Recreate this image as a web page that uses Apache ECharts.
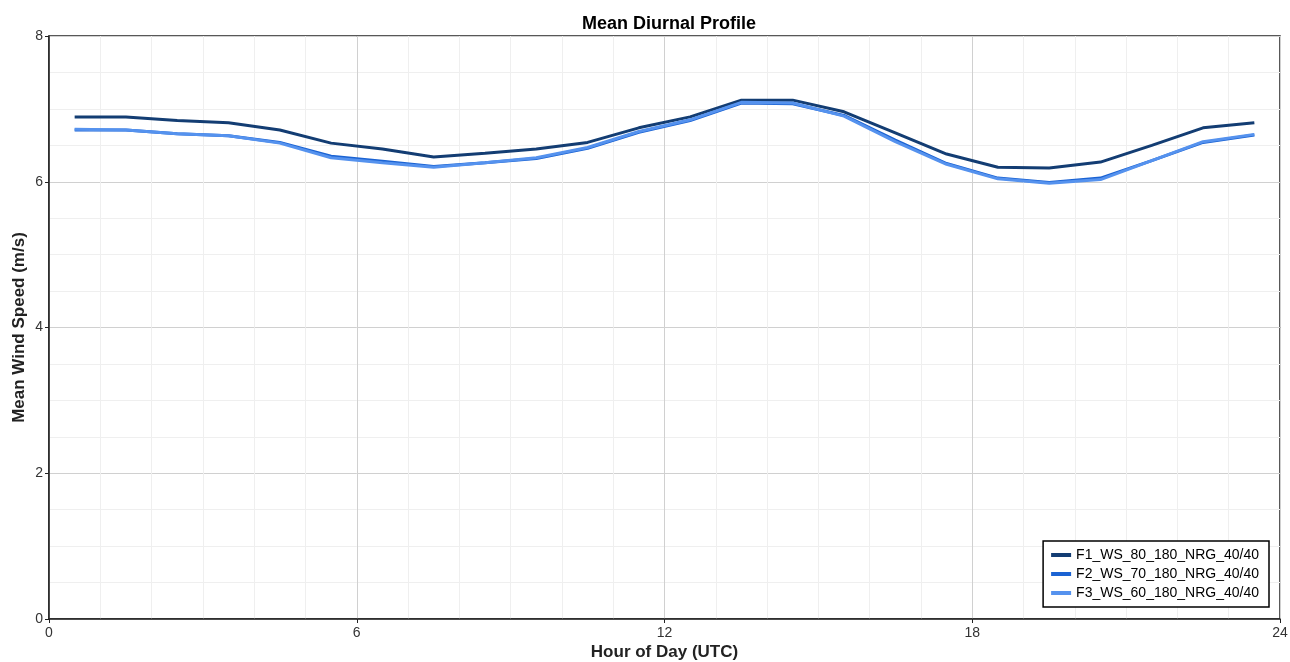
<!DOCTYPE html>
<html><head><meta charset="utf-8">
<script src="https://cdn.jsdelivr.net/npm/echarts@6/dist/echarts.min.js"></script>
<style>html,body{margin:0;padding:0;background:#fff}#c{width:1290px;height:662px}</style>
</head><body><div id="c"></div>
<script>
const hours = [0.5,1.5,2.5,3.5,4.5,5.5,6.5,7.5,8.5,9.5,10.5,11.5,12.5,13.5,14.5,15.5,16.5,17.5,18.5,19.5,20.5,21.5,22.5,23.5];
const seriesNames = ["F1_WS_80_180_NRG_40/40","F2_WS_70_180_NRG_40/40","F3_WS_60_180_NRG_40/40"];
const f1 = [6.89,6.89,6.84,6.81,6.71,6.53,6.45,6.34,6.39,6.45,6.54,6.74,6.89,7.12,7.12,6.96,6.67,6.38,6.20,6.19,6.27,6.50,6.74,6.81];
const f2 = [6.71,6.71,6.66,6.63,6.54,6.35,6.28,6.21,6.26,6.32,6.46,6.68,6.84,7.08,7.07,6.91,6.57,6.25,6.05,5.99,6.05,6.29,6.54,6.64];
const f3 = [6.72,6.71,6.66,6.63,6.53,6.33,6.26,6.20,6.26,6.33,6.47,6.69,6.85,7.09,7.08,6.90,6.55,6.24,6.04,5.98,6.03,6.29,6.55,6.65];
const colors = ["#133d73","#1b63d3","#5592ee"];
const xTicks = [0,6,12,18,24];
const yTicks = [0,2,4,6,8];

const font = "'Liberation Sans', Arial, sans-serif";
const chart = echarts.init(document.getElementById('c'), null, {renderer:'canvas'});
const mk = (name, vals, i) => ({
  name, type:'line', data: hours.map((h,k)=>[h, vals[k]]),
  showSymbol:false, symbol:'none', z: 3 + i,
  lineStyle:{color:colors[i], width:3}, itemStyle:{color:colors[i]}
});
chart.setOption({
  animation:false,
  backgroundColor:'#fff',
  title:{text:'Mean Diurnal Profile', left:664, textAlign:'center', top:10,
    textStyle:{fontFamily:font, fontSize:18, fontWeight:'bold', color:'#000'}},
  grid:{left:49, top:36, right:10, bottom:43, containLabel:false, outerBoundsMode:'none',
    show:true, borderColor:'#222', borderWidth:1.5, backgroundColor:'transparent'},
  legend:{orient:'vertical', right:21, bottom:55, data:seriesNames, z:20,
    backgroundColor:'#fff', borderColor:'#000', borderWidth:1.5,
    padding:[7,10,7,8], itemGap:5, itemWidth:20, itemHeight:4, icon:'rect',
    textStyle:{fontFamily:font, fontSize:14, color:'#000'}},
  xAxis:{type:'value', min:xTicks[0], max:xTicks[xTicks.length-1], interval:6,
    name:'Hour of Day (UTC)', nameLocation:'middle', nameGap:25, nameMoveOverlap:false,
    nameTextStyle:{fontFamily:font, fontSize:17, fontWeight:'bold', color:'#222'},
    axisLine:{show:true, lineStyle:{color:'#222', width:1.5}},
    axisTick:{show:true, length:4, lineStyle:{color:'#222'}},
    axisLabel:{fontFamily:font, fontSize:14, color:'#333', margin:7},
    splitLine:{show:true, lineStyle:{color:'#d0d0d0', width:1}},
    minorTick:{show:false, splitNumber:6},
    minorSplitLine:{show:true, lineStyle:{color:'#efefef', width:1}}},
  yAxis:{type:'value', min:yTicks[0], max:yTicks[yTicks.length-1], interval:2,
    name:'Mean Wind Speed (m/s)', nameLocation:'middle', nameGap:21, nameMoveOverlap:false,
    nameTextStyle:{fontFamily:font, fontSize:17, fontWeight:'bold', color:'#222'},
    axisLine:{show:true, lineStyle:{color:'#222', width:1.5}},
    axisTick:{show:true, length:4, lineStyle:{color:'#222'}},
    axisLabel:{fontFamily:font, fontSize:14, color:'#333', margin:6},
    splitLine:{show:true, lineStyle:{color:'#d0d0d0', width:1}},
    minorTick:{show:false, splitNumber:4},
    minorSplitLine:{show:true, lineStyle:{color:'#efefef', width:1}}},
  series:[mk(seriesNames[0], f1, 0), mk(seriesNames[1], f2, 1), mk(seriesNames[2], f3, 2)]
});
</script></body></html>
